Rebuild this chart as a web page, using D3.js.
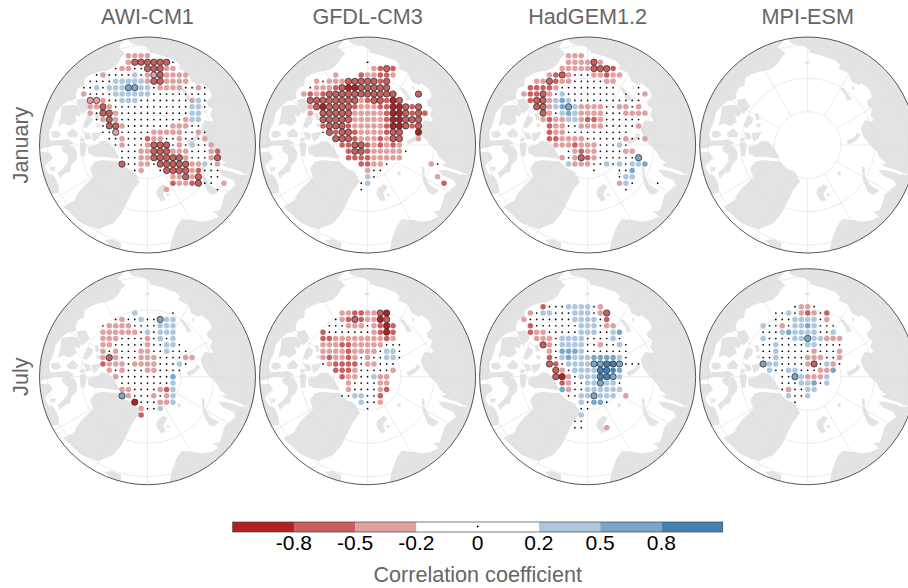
<!DOCTYPE html>
<html>
<head>
<meta charset="utf-8">
<script src="https://cdn.jsdelivr.net/npm/d3@7"></script>
<style>
  html, body { margin: 0; padding: 0; background: #fff; }
  text { font-family: "Liberation Sans", Arial, sans-serif; }
</style>
</head>
<body>
<div id="chart"></div>
<script>
var models = ["AWI-CM1", "GFDL-CM3", "HadGEM1.2", "MPI-ESM"];
var months = ["January", "July"];

// grid cells, first row is 14 cells above the pole, first column 11 cells left of it
// a b c = strong to weak negative, x y z = weak to strong positive, . = |r| < 0.2
// capital letter = significant
var codeValues = { a: -0.9, b: -0.65, c: -0.35, ".": 0, x: 0.35, y: 0.65, z: 0.9 };

var awiJan = [
  "        cccc",
  "        cBBBBBB.",
  "      .cc..BBBcc",
  "   .c....x.cCBcccc",
  "  ....xxxxxcBBcccc",
  " ..x.xxxYYxx.cccc..c.",
  " c....xxxxxx.........",
  "  CCc..xxx........cx.",
  "  ccBc............xx.",
  "  c.BBc...........xx",
  "   .cBc..........cxx",
  "    .BBc.......ccc..",
  "    ..C.....ccccc..c.",
  "     ..c...bcc..c...c",
  "      .c...cBBB.c.x..c",
  "       ...ccBBBccc...cb",
  "       ...ccBBBBBc...cB",
  "       B..cc.BBBBBccx.c",
  "         .c  .BBBBcb...",
  "               ccBcB ..",
  "               bccbB.. c",
  "              c       ."
];
var gfdlJan = [
  "",
  "           .",
  "            cbBb",
  "      c   bccbbc",
  "   c.cccBBBBBbB",
  "  .cccbBAABBBBB",
  " cbcbBBBBBBBBBBB   B",
  "  BBBBBBBBcbBBbAB",
  "  cBABBBBbcccbbAABbB",
  "  c BBBBBcccccbAABbBb",
  "    BBBBBcccccbAABBB",
  "    bBBBbcccccbAABbB",
  "    .BbBBbccccbBB  A",
  "      BBBbcccbcBB  c",
  "       bbBBbcbcbc",
  "        bBBbccccc.",
  "        bbbbccccc",
  "          bbcc.      c.",
  "           c..",
  "           x.         c",
  "          .x           b",
  "          ."
];
var hadJan = [
  "        ccc",
  "        ccccBc",
  "       cccccBBBb",
  "     cbBc...ccbcc",
  "   ccBbcc.....cc",
  "  bbbbc.........   .",
  " cbbBc.x........ . .c",
  "  bBBcxyx...........",
  "   BBcxyYxcccc..cc.c",
  "    Bc.xyxcccc...cccc",
  "    cbccxxcbbc......",
  "     bcc..cccc.....c",
  "     bcc..........",
  "     bbcccc......c..c",
  "      cccbccc...x.",
  "        .cbcc....cc",
  "       c.cBbc......Y",
  "        xccc..x.x.xxy",
  "            .   ..y",
  "                .xx",
  "                cx.   .",
  "                 ."
];
var mpiJan = [];

var awiJul = [
  "", "", "", "",
  "         x     .",
  "      .c..x..Yxx",
  "    .cccc....xxx",
  "    cccccc.x.xxx",
  "    ccc....c.x.x",
  "    cc.....c..xx.",
  "    c.c...cc..x...",
  "    cBc...ccc....cc",
  "    bccc.cccc...x.",
  "     c.c...cc....",
  "      c........y",
  "       ........x",
  "       cc....cbx",
  "       Yc...c.cx",
  "         A...ccx",
  "          c..x",
  "          b"
];
var gfdlJul = [
  "", "", "", "",
  "       ccbbccBA",
  "      .cbBbccAB",
  "     ...ccc.cbAb",
  "    b.......cbAb",
  "    bbccccccccbc",
  "    cccbbccccc...",
  "    ccccbcccc.xx.",
  "    cbccbc.c..xx.",
  "    .cbbbb.cc...",
  "      bbbc.....c",
  "       bcc..xcc",
  "        c....cc",
  "        c....cb",
  "       ..xx..b",
  "          x..c",
  "           ."
];
var hadJul = [
  "", "", "",
  "    b...xxxx.c",
  "  c.xx...xxx.cB",
  " c.......xxxx.b",
  "  b.......xxx.cc",
  "  bcc.....xxx..xy",
  "   ccc.xxxx....x.",
  "    Bc.xxxx..c..x.",
  "     c.yyyx.......",
  "     b.xyxxxyyyyx.",
  "     Bb.xxxxYYZZY...",
  "      Bc.xxxxZZzy",
  "      BAc.xxxZZYx",
  "       bc..xxYxx.",
  "       yc..xxxxxx",
  "        ..xxYxxx c",
  "          x.yy.",
  "          ..",
  "          x",
  "         ..",
  "         ..   c"
];
var mpiJul = [
  "", "", "",
  "         .cc.",
  "      ..x.cbc.b",
  "      ...xxxx.c",
  "    x..c.xxyx...",
  "    ...xyxxxx..x",
  "    x....xxYxxccc",
  "    ..x....xx....",
  "    ..x.....c...c",
  "    ..x....ccc..c",
  "    Yxx....cB.xc.",
  "     x..xx...ccy",
  "       ..Yxcccx",
  "       ...xxy.x",
  "       .c..xx",
  "        x..x",
  "         ."
];
var panelRows = [awiJan, gfdlJan, hadJan, mpiJan, awiJul, gfdlJul, hadJul, mpiJul];

var colorBreaks = [-0.8, -0.5, -0.2, 0.2, 0.5, 0.8];
var colorList = ["#b2201f", "#c95f5f", "#e0a0a0", "#ffffff", "#aec6de", "#7aa6c9", "#4480b0"];
var barTicks = [-0.8, -0.5, -0.2, 0, 0.2, 0.5, 0.8];
var barEdges = [-1, -0.8, -0.5, -0.2, 0, 0.2, 0.5, 0.8, 1];

// coastlines traced in map units, pole at (338,345), 100 units = 10 degrees of latitude
var land = [
  // Siberia round to Scandinavia
  [[283,35],[295,43],[320,46],[340,56],[346,68],[385,78],[410,88],[420,90],[435,105],[430,115],[460,130],[470,155],[490,165],[500,160],[525,180],[530,200],[515,215],[520,230],[533,235],[525,255],[535,270],[530,275],[510,270],[497,295],[505,320],[525,345],[545,365],[555,385],[575,400],[560,402],[570,410],[605,420],[640,435],[620,435],[590,425],[570,420],[550,420],[565,438],[595,450],[603,465],[580,485],[570,492],[563,515],[555,540],[535,545],[553,560],[530,570],[500,575],[475,570],[440,568],[425,590],[410,630],[403,668],[500,720],[720,600],[720,100],[400,0],[283,0]],
  // Alaska and northern Canada
  [[270,0],[265,35],[248,52],[262,62],[272,72],[260,80],[248,102],[232,115],[212,122],[192,125],[172,132],[150,145],[148,168],[130,175],[122,192],[125,207],[98,213],[78,230],[62,250],[57,275],[45,300],[42,318],[48,332],[78,330],[100,328],[118,340],[95,348],[60,345],[30,355],[0,358],[0,0]],
  // Quebec and Labrador
  [[0,368],[30,366],[45,368],[55,385],[40,395],[30,410],[40,430],[60,440],[72,470],[70,490],[50,492],[0,500]],
  // Baffin
  [[80,352],[100,345],[118,350],[128,370],[125,390],[110,405],[105,425],[90,430],[75,445],[68,430],[85,415],[100,395],[100,375],[85,365]],
  [[48,412],[62,410],[60,422],[50,422]],
  // Arctic archipelago
  [[80,230],[100,225],[125,225],[140,245],[133,260],[120,255],[125,275],[105,288],[85,280],[70,290],[77,260]],
  [[125,210],[150,205],[165,230],[145,252],[133,235]],
  [[150,275],[160,255],[175,265],[170,280],[155,295],[145,290]],
  [[180,250],[190,250],[193,270],[183,270]],
  [[185,280],[197,283],[195,292],[185,290]],
  [[50,305],[70,302],[80,315],[65,325],[50,320]],
  [[95,310],[115,295],[130,310],[125,322],[100,322]],
  [[137,325],[150,322],[150,332],[137,335]],
  [[145,305],[165,310],[170,325],[155,330]],
  [[170,310],[200,305],[190,325],[175,335]],
  [[135,340],[150,335],[155,350],[150,380],[137,375]],
  [[160,350],[185,345],[200,332],[220,335],[237,355],[255,385],[240,385],[210,380],[180,380],[160,370]],
  // Greenland
  [[255,395],[275,415],[300,425],[315,455],[295,480],[275,520],[260,550],[235,580],[190,598],[140,580],[85,530],[120,510],[125,495],[145,470],[165,452],[175,442],[165,415],[180,395],[200,390],[235,393]],
  // Iceland
  [[210,630],[235,628],[260,640],[255,665],[230,652]],
  // Svalbard
  [[365,480],[385,462],[398,470],[385,490],[392,510],[380,515],[365,495]],
  [[395,490],[405,492],[405,498],[395,498]],
  [[428,428],[436,422],[438,436],[428,436]],
  // Novaya Zemlya
  [[500,410],[508,412],[510,440],[525,465],[553,482],[535,495],[520,488],[505,455]],
  // small islands off Siberia
  [[328,96],[340,92],[345,98],[332,102]],
  [[435,175],[445,175],[465,200],[470,210],[455,210],[450,195]],
  [[470,165],[480,175],[473,180]],
  // Severnaya Zemlya
  [[455,332],[480,320],[485,308],[497,315],[485,330],[470,340],[460,342]]
];

var svgWidth = 908, svgHeight = 588;
var radius = 108;
var cxs = d3.scalePoint().domain(models).range([147.5, 807.7]);
var cys = d3.scalePoint().domain(months).range([145, 376.7]);

var color = d3.scaleThreshold().domain(colorBreaks).range(colorList);

var svg = d3.select("#chart").append("svg")
  .attr("width", svgWidth)
  .attr("height", svgHeight);

svg.append("defs").append("clipPath").attr("id", "disc")
  .append("circle").attr("r", radius);

function drawPanel(rows, cx, cy) {
  var g = svg.append("g").attr("transform", "translate(" + cx + "," + cy + ")");
  var map = g.append("g").attr("clip-path", "url(#disc)");

  // land
  var mx = d3.scaleLinear().domain([14, 662]).range([-radius, radius]);
  var my = d3.scaleLinear().domain([21, 669]).range([-radius, radius]);
  var landLine = d3.line().x(function(d) { return mx(d[0]); }).y(function(d) { return my(d[1]); });
  map.selectAll(".land").data(land).enter().append("path")
    .attr("d", function(d) { return landLine(d) + "Z"; })
    .attr("fill", "#e3e3e3");

  // graticule
  var projection = d3.geoAzimuthalEquidistant()
    .rotate([0, -90])
    .scale(33.3 / (10 * Math.PI / 180))
    .translate([0, 0]);
  var geo = d3.geoPath(projection);
  var parallels = [80, 70, 60];
  var meridians = d3.range(-180, 180, 30);
  map.selectAll(".par").data(parallels).enter().append("path")
    .attr("d", function(d) { return geo(d3.geoCircle().center([0, 90]).radius(90 - d)()); })
    .attr("fill", "none").attr("stroke", "#dedede").attr("stroke-width", 0.6);
  map.selectAll(".mer").data(meridians).enter().append("path")
    .attr("d", function(d) { return geo({ type: "LineString", coordinates: [[d, 80], [d, 55]] }); })
    .attr("fill", "none").attr("stroke", "#dedede").attr("stroke-width", 0.6);

  // grid cells
  var cellStep = 19.1 / 3;
  var xGrid = d3.scaleLinear().domain([0, 11]).range([-11 * cellStep, 0]);
  var yGrid = d3.scaleLinear().domain([0, 14]).range([-14 * cellStep, 0]);
  var cells = [];
  rows.forEach(function(row, r) {
    row.split("").forEach(function(ch, c) {
      if (ch === " ") return;
      var low = ch.toLowerCase();
      cells.push({ r: r, c: c, value: codeValues[low], sig: ch !== low });
    });
  });
  g.selectAll(".cell").data(cells).enter().append("circle")
    .attr("cx", function(d) { return xGrid(d.c); })
    .attr("cy", function(d) { return yGrid(d.r); })
    .attr("r", function(d) { return d.value === 0 ? 0.85 : d.sig ? 3.15 : 2.75; })
    .attr("fill", function(d) { return d.value === 0 ? "#000" : color(d.value); })
    .attr("stroke", function(d) { return d.sig ? "#333" : "none"; })
    .attr("stroke-width", 0.8);

  g.append("circle").attr("r", radius)
    .attr("fill", "none").attr("stroke", "#444").attr("stroke-width", 0.9);
}

panelRows.forEach(function(rows, i) {
  var model = models[i % 4];
  var month = months[Math.floor(i / 4)];
  drawPanel(rows, cxs(model), cys(month));
});

// headers
svg.selectAll(".model").data(models).enter().append("text")
  .attr("x", function(d) { return cxs(d); })
  .attr("y", 24)
  .attr("text-anchor", "middle")
  .attr("font-size", 21.6)
  .attr("fill", "#666")
  .text(function(d) { return d; });

svg.selectAll(".month").data(months).enter().append("text")
  .attr("transform", function(d) { return "translate(28," + cys(d) + ") rotate(-90)"; })
  .attr("text-anchor", "middle")
  .attr("font-size", 21.6)
  .attr("fill", "#666")
  .text(function(d) { return d; });

// colour bar
var barTop = 522, barHeight = 10;
var xBar = d3.scalePoint().domain(barEdges).range([232.7, 722.7]);
var barCells = d3.pairs(barEdges);
svg.selectAll(".bar").data(barCells).enter().append("rect")
  .attr("x", function(d) { return xBar(d[0]); })
  .attr("y", barTop)
  .attr("width", function(d) { return xBar(d[1]) - xBar(d[0]); })
  .attr("height", barHeight)
  .attr("fill", function(d) { return color((d[0] + d[1]) / 2); });
svg.append("rect")
  .attr("x", 232.7).attr("y", barTop)
  .attr("width", 490).attr("height", barHeight)
  .attr("fill", "none").attr("stroke", "#444").attr("stroke-width", 0.7);
svg.append("circle")
  .attr("cx", xBar(0)).attr("cy", barTop + 4.5).attr("r", 1).attr("fill", "#000");

svg.selectAll(".tick").data(barTicks).enter().append("text")
  .attr("x", function(d) { return xBar(d); })
  .attr("y", 550)
  .attr("text-anchor", "middle")
  .attr("font-size", 21)
  .attr("fill", "#000")
  .text(function(d) { return d; });

svg.append("text")
  .attr("x", 477.7)
  .attr("y", 582)
  .attr("text-anchor", "middle")
  .attr("font-size", 21.6)
  .attr("fill", "#666")
  .text("Correlation coefficient");
</script>
</body>
</html>
